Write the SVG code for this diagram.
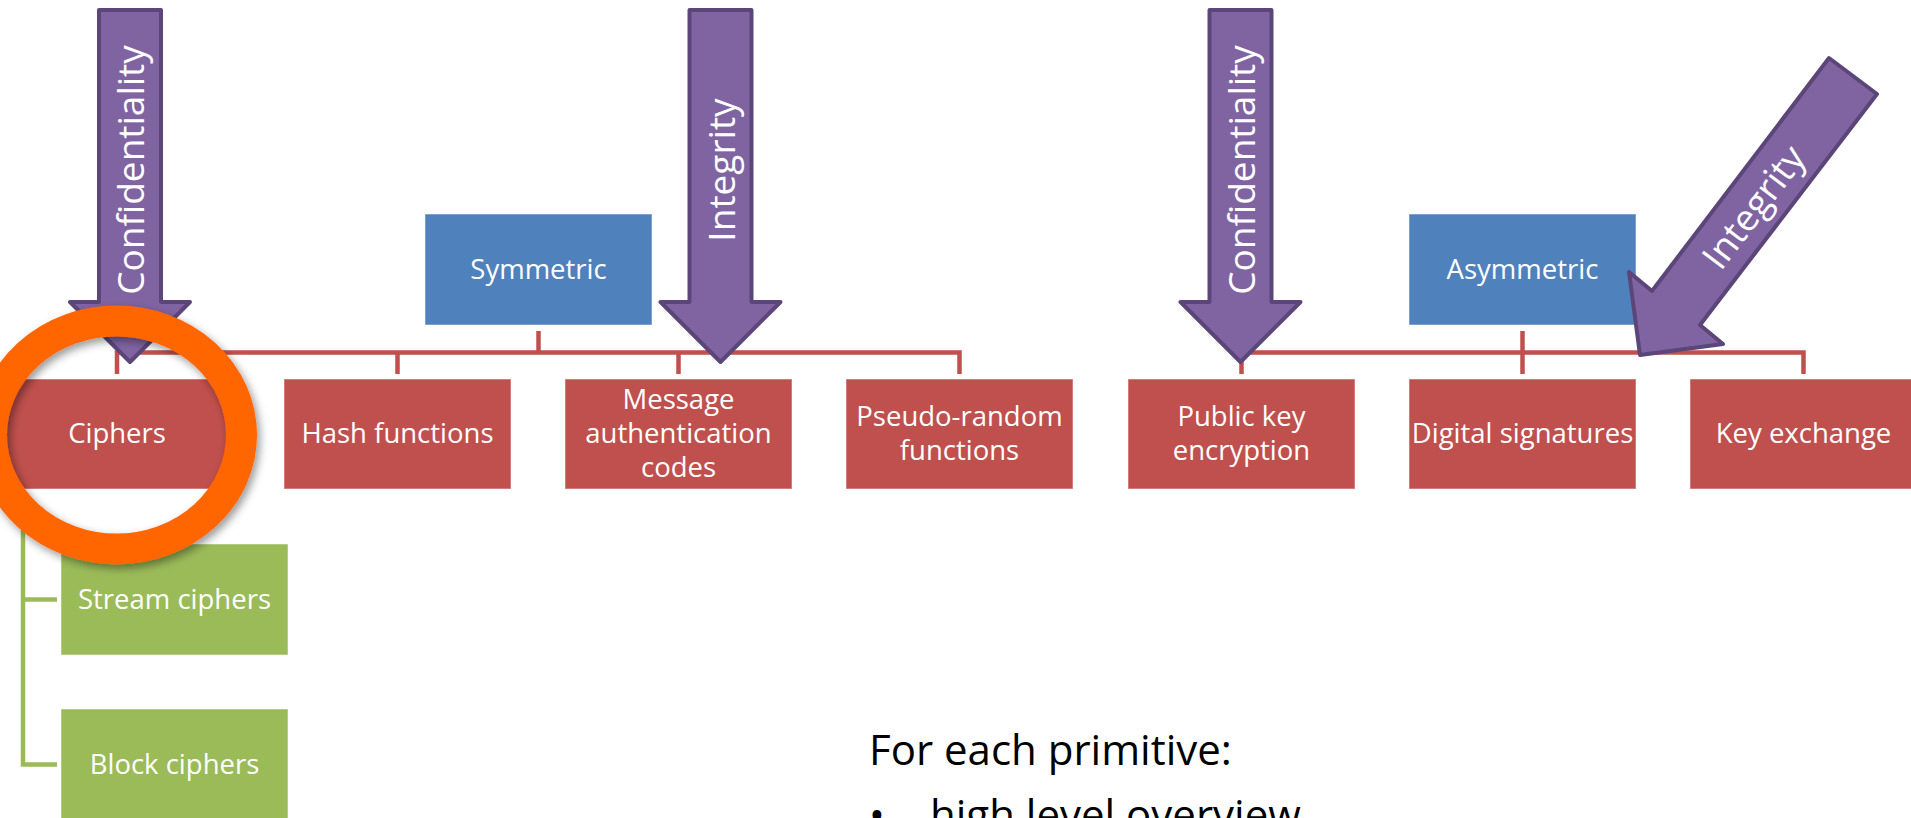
<svg xmlns="http://www.w3.org/2000/svg" width="1911" height="818" viewBox="0 0 1911 818">
  <defs>
    <style>
      .red{fill:#C0504D;stroke:#ffffff;stroke-opacity:.5;stroke-width:1}
      .blue{fill:#4F81BD;stroke:#ffffff;stroke-opacity:.5;stroke-width:1}
      .green{fill:#9BBB59;stroke:#ffffff;stroke-opacity:.5;stroke-width:1}
      .lbl{font-family:"Open Sans","DejaVu Sans",sans-serif;font-size:27.5px;fill:#ffffff;text-anchor:middle}
      .arrow{fill:#8064A2;stroke:#5C4679;stroke-width:4;stroke-linejoin:round}
      .atxt{font-family:"Open Sans","DejaVu Sans",sans-serif;font-size:37px;fill:#ffffff;text-anchor:middle}
      .conR{fill:none;stroke:#C0504D;stroke-width:4.5}
      .conG{fill:none;stroke:#9BBB59;stroke-width:4.5}
      .body{font-family:"Open Sans","DejaVu Sans",sans-serif;font-size:42px;fill:#000000}
    </style>
    <path id="downArrow" d="M-31 0 H31 V292 H60 L0 352 L-60 292 H-31 Z"/>
    <filter id="shadow" x="-20%" y="-20%" width="140%" height="140%">
      <feDropShadow dx="3" dy="4" stdDeviation="4" flood-color="#000" flood-opacity="0.4"/>
    </filter>
  </defs>

  <rect width="1911" height="818" fill="#ffffff"/>

  <g id="connectors">
    <path class="conR" d="M538.5 331 V352.5"/>
    <path class="conR" d="M117 374 V352.5 H959.5 V374"/>
    <path class="conR" d="M397.5 352.5 V374 M678.5 352.5 V374"/>
    <path class="conR" d="M1522.5 331 V374"/>
    <path class="conR" d="M1241.5 374 V352.5 H1803.5 V374"/>
    <path class="conG" d="M23 494 V764.5 H57 M23 599.5 H57"/>
  </g>

  <g id="symmetric">
    <rect class="blue" x="425" y="214" width="227" height="111"/>
    <text class="lbl" x="538.5" y="278.5">Symmetric</text>
  </g>
  <g id="asymmetric">
    <rect class="blue" x="1409" y="214" width="227" height="111"/>
    <text class="lbl" x="1522.5" y="278.5">Asymmetric</text>
  </g>

  <g id="ciphers">
    <rect class="red" x="3.5" y="379" width="227" height="110"/>
    <text class="lbl" x="117" y="443">Ciphers</text>
  </g>
  <g id="hash">
    <rect class="red" x="284" y="379" width="227" height="110"/>
    <text class="lbl" x="397.5" y="443">Hash functions</text>
  </g>
  <g id="mac">
    <rect class="red" x="565" y="379" width="227" height="110"/>
    <text class="lbl" x="678.5" y="409">Message</text>
    <text class="lbl" x="678.5" y="443">authentication</text>
    <text class="lbl" x="678.5" y="477">codes</text>
  </g>
  <g id="prf">
    <rect class="red" x="846" y="379" width="227" height="110"/>
    <text class="lbl" x="959.5" y="426">Pseudo-random</text>
    <text class="lbl" x="959.5" y="460">functions</text>
  </g>
  <g id="pke">
    <rect class="red" x="1128" y="379" width="227" height="110"/>
    <text class="lbl" x="1241.5" y="426">Public key</text>
    <text class="lbl" x="1241.5" y="460">encryption</text>
  </g>
  <g id="sig">
    <rect class="red" x="1409" y="379" width="227" height="110"/>
    <text class="lbl" x="1522.5" y="443">Digital signatures</text>
  </g>
  <g id="kex">
    <rect class="red" x="1690" y="379" width="227" height="110"/>
    <text class="lbl" x="1803.5" y="443">Key exchange</text>
  </g>

  <g id="stream">
    <rect class="green" x="61" y="544" width="227" height="111"/>
    <text class="lbl" x="174.5" y="609">Stream ciphers</text>
  </g>
  <g id="block">
    <rect class="green" x="61" y="709" width="227" height="111"/>
    <text class="lbl" x="174.5" y="774">Block ciphers</text>
  </g>

  <g id="arrow-confidentiality-sym">
    <use href="#downArrow" class="arrow" transform="translate(130,10)"/>
    <text class="atxt" transform="translate(144,170) rotate(-90)">Confidentiality</text>
  </g>
  <g id="arrow-integrity-sym">
    <use href="#downArrow" class="arrow" transform="translate(720.5,10)"/>
    <text class="atxt" transform="translate(734.5,170) rotate(-90)">Integrity</text>
  </g>
  <g id="arrow-confidentiality-asym">
    <use href="#downArrow" class="arrow" transform="translate(1240.5,10)"/>
    <text class="atxt" transform="translate(1254.5,170) rotate(-90)">Confidentiality</text>
  </g>
  <g id="arrow-integrity-asym">
    <polygon class="arrow" points="1829,58 1877,94 1700,325 1723,344 1640,355 1629,272 1652,291"/>
    <text class="atxt" transform="translate(1764,215) rotate(-52.8)">Integrity</text>
  </g>

  <g id="highlight">
    <ellipse cx="116.5" cy="435" rx="125" ry="114" fill="none" stroke="#FF6600" stroke-width="31" filter="url(#shadow)"/>
  </g>

  <g id="notes">
    <text class="body" x="869" y="765">For each primitive:</text>
    <text class="body" x="869" y="830">•</text>
    <text class="body" x="930" y="830">high level overview</text>
  </g>
</svg>
